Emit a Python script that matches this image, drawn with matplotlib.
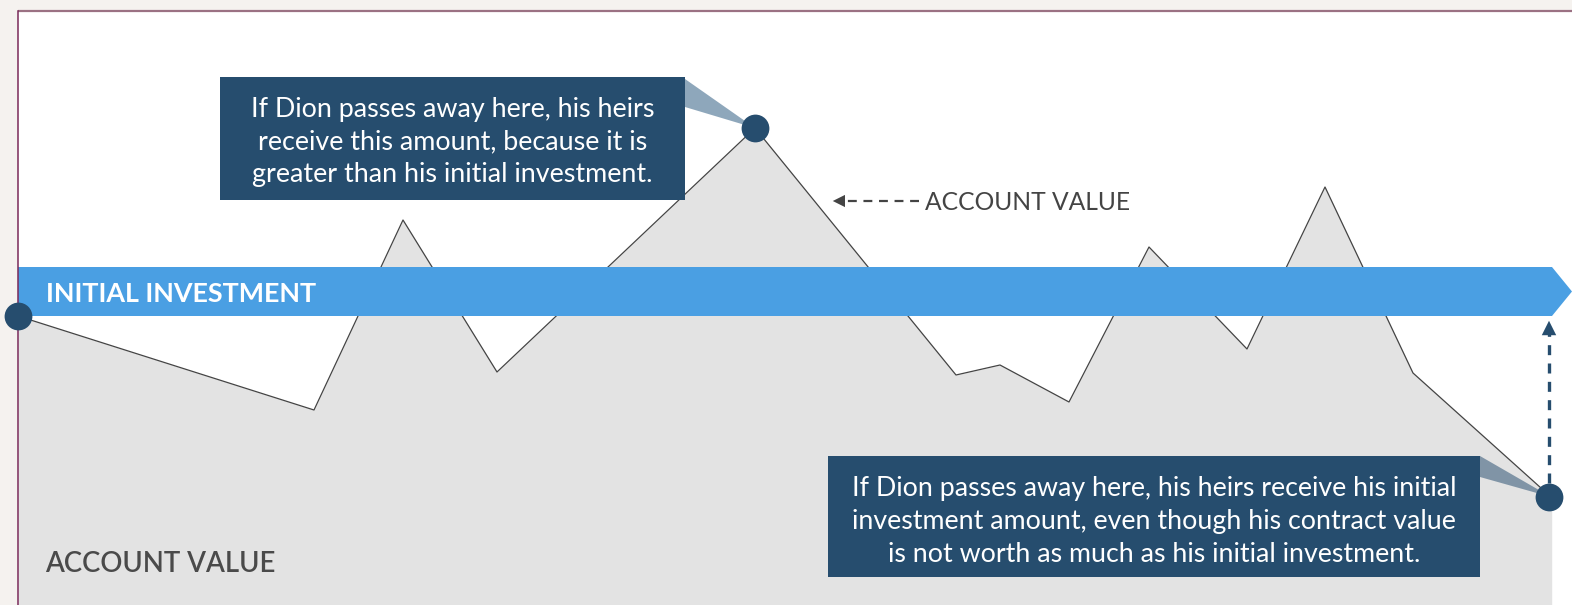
import matplotlib.pyplot as plt
from matplotlib.patches import Polygon, Rectangle

# account value path (x position, value measured up from bottom edge)
t = [18, 314, 403, 497, 755, 956, 1000, 1069, 1149, 1247, 1325, 1413, 1551]
value = [289, 195, 385, 233, 477, 230, 240, 203, 358, 256, 418, 232, 108]
initial_level = 289
band_height = 49

box1_lines = ["If Dion passes away here, his heirs",
              "receive this amount, because it is",
              "greater than his initial investment."]
box2_lines = ["If Dion passes away here, his heirs receive his initial",
              "investment amount, even though his contract value",
              "is not worth as much as his initial investment."]

navy = "#264d6e"
blue = "#4a9fe3"
grey = "#e3e3e3"

fig = plt.figure(figsize=(15.72, 6.05), dpi=100)
fig.patch.set_facecolor("#f5f2ef")
ax = fig.add_axes([0, 0, 1, 1])
ax.set_xlim(0, 1572)
ax.set_ylim(0, 605)
ax.axis("off")

# white panel with border
ax.add_patch(Rectangle((18, 0), 1572 - 18, 594.5, facecolor="white", edgecolor="none", zorder=0))
ax.plot([18, 1572], [594.5, 594.5], color="#9b7183", lw=1.6, zorder=6, solid_capstyle="butt")
ax.plot([18, 18], [0, 594.5], color="#7a2a5a", lw=1.1, zorder=6)

# account value area + line
ax.fill_between(t, value, 0, color=grey, lw=0, zorder=1)
ax.plot([t[-1], t[-1]], [0, value[-1]], color=grey, lw=1, zorder=1)
ax.plot(t, value, color="#444444", lw=0.9, zorder=2)

# initial investment band
top = initial_level + band_height
mid = initial_level + band_height / 2
ax.add_patch(Polygon([(18, initial_level), (1552, initial_level), (1572, mid),
                      (1552, top), (18, top)], closed=True,
                     facecolor=blue, edgecolor="none", zorder=3))
ax.text(46, 311, "INITIAL INVESTMENT", color="white", fontsize=19.4, fontweight="bold",
        family="Lato", va="center", ha="left", zorder=4)

# pointers from the callouts
ax.add_patch(Polygon([(685, 526), (685, 498), (t[4], value[4])], closed=True,
                     facecolor="#8ea7bb", edgecolor="none", zorder=4))
ax.add_patch(Polygon([(1480, 149), (1480, 128), (t[-1], value[-1])], closed=True,
                     facecolor="#8094a6", edgecolor="none", zorder=4))

# dots
ax.plot([t[0], t[4], t[-1] - 2], [value[0], value[4], value[-1]], "o", color=navy,
        markersize=20, markeredgewidth=0, zorder=7)

# callout boxes
ax.add_patch(Rectangle((220, 405), 465, 123, facecolor=navy, edgecolor="none", zorder=5))
for i, line in enumerate(box1_lines):
    ax.text(452.5, 488 - i * 32.5, line, color="white", fontsize=19.4, family="Lato",
            ha="center", va="baseline", zorder=6)

ax.add_patch(Rectangle((828, 28), 652, 121, facecolor=navy, edgecolor="none", zorder=5))
for i, line in enumerate(box2_lines):
    ax.text(1154, 109 - i * 33, line, color="white", fontsize=19.3, family="Lato",
            ha="center", va="baseline", zorder=6)

# dashed arrow to the account value line
ax.plot([919, 846], [404, 404], color="#444444", lw=1.6, ls=(0, (4, 3)), zorder=4)
ax.annotate("", xy=(830, 404), xytext=(848, 404),
            arrowprops=dict(arrowstyle="-|>", color="#444444", lw=0, mutation_scale=22),
            zorder=4)
ax.text(925, 402, "ACCOUNT VALUE", color="#444444", fontsize=17.7, family="Lato",
        va="center", ha="left", zorder=4)

# dashed arrow up to the band
ax.plot([t[-1] - 2, t[-1] - 2], [122, 272], color=navy, lw=2.4, ls=(0, (3, 2.5)), zorder=4)
ax.annotate("", xy=(t[-1] - 2, 287), xytext=(t[-1] - 2, 268),
            arrowprops=dict(arrowstyle="-|>", color=navy, lw=0, mutation_scale=26),
            zorder=4)

ax.text(45, 41, "ACCOUNT VALUE", color="#4a4a4a", fontsize=19.8, fontweight="semibold",
        family="Lato", va="center", ha="left", zorder=4)

fig.savefig("out.png", dpi=100, facecolor=fig.get_facecolor())
